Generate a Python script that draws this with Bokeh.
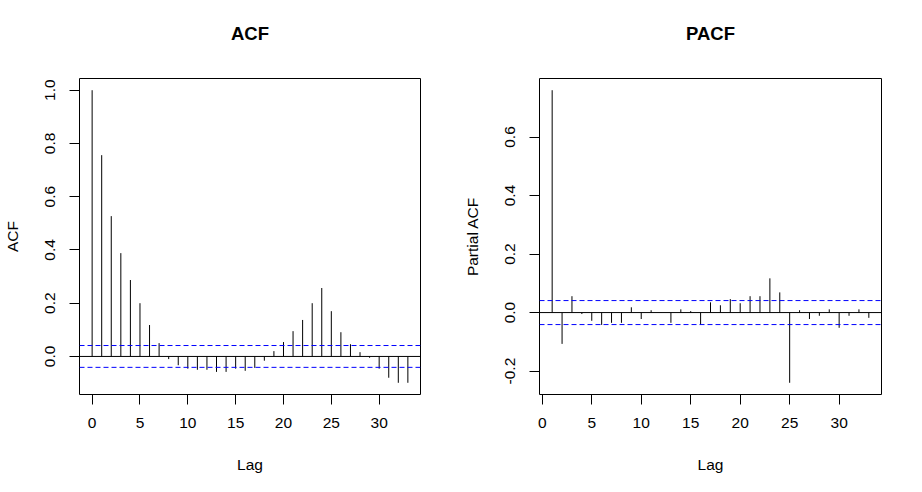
from bokeh.plotting import figure
from bokeh.layouts import row
from bokeh.models import (Span, FixedTicker, PrintfTickFormatter, Range1d, ColumnDataSource,
                          LinearAxis)
from bokeh.embed import file_html
from bokeh.resources import INLINE

# ---- data ----
acf_lags = list(range(0, 34))
acf_vals = [1.000, 0.756, 0.527, 0.388, 0.287, 0.200, 0.118, 0.050, -0.010, -0.033,
            -0.046, -0.050, -0.050, -0.058, -0.058, -0.046, -0.054, -0.043, -0.016, 0.020,
            0.054, 0.095, 0.137, 0.200, 0.257, 0.170, 0.091, 0.046, 0.016, -0.005,
            -0.046, -0.080, -0.099, -0.099]
pacf_lags = list(range(1, 34))
pacf_vals = [0.760, -0.107, 0.056, -0.005, -0.028, -0.042, -0.035, -0.035, 0.018, -0.022,
             0.008, 0.001, -0.035, 0.011, 0.005, -0.041, 0.035, 0.025, 0.046, 0.032,
             0.056, 0.056, 0.117, 0.069, -0.240, 0.008, -0.022, -0.011, 0.011, -0.052,
             -0.011, 0.011, -0.018]
ci = 0.041
x_ticks = [0, 5, 10, 15, 20, 25, 30]
acf_yticks = [0.0, 0.2, 0.4, 0.6, 0.8, 1.0]
pacf_yticks = [-0.2, 0.0, 0.2, 0.4, 0.6]

FONT = "Liberation Sans"


def r_range(lo, hi):
    pad = 0.04 * (hi - lo)
    return Range1d(lo - pad, hi + pad)


def make_panel(lags, vals, title, ylab, yticks, bl, br):
    ylo = min(min(vals), -ci)
    yhi = max(max(vals), ci)
    xr = r_range(min(lags), max(lags))
    yr = r_range(ylo, yhi)
    p = figure(width=453, height=476, x_range=xr, y_range=yr,
               output_backend="svg", toolbar_location=None,
               min_border_left=bl, min_border_right=br,
               min_border_top=78, min_border_bottom=82)
    p.background_fill_color = "white"
    p.border_fill_color = "white"
    p.outline_line_color = "black"
    p.outline_line_width = 1
    p.outline_line_alpha = 1.0
    p.xgrid.grid_line_color = None
    p.ygrid.grid_line_color = None

    src = ColumnDataSource(dict(x=lags, y=vals, z=[0] * len(lags)))
    p.segment(x0="x", y0="z", x1="x", y1="y", source=src,
              line_color="black", line_width=1)
    p.add_layout(Span(location=0, dimension="width", line_color="black", line_width=1))
    for c in (ci, -ci):
        p.add_layout(Span(location=c, dimension="width", line_color="#0000FF",
                          line_width=1, line_dash="5 3"))

    xax = p.below[0]
    yax = p.left[0]
    for ax in (xax, yax):
        ax.axis_line_color = None
        ax.major_tick_line_color = "black"
        ax.major_tick_out = 10
        ax.major_tick_in = 0
        ax.minor_tick_line_color = None
        ax.major_label_text_font = FONT
        ax.major_label_text_font_size = "15.5px"
        ax.major_label_text_color = "black"
        ax.axis_label_text_font = FONT
        ax.axis_label_text_font_size = "15.5px"
        ax.axis_label_text_font_style = "normal"
        ax.axis_label_text_color = "black"

    xax.ticker = FixedTicker(ticks=x_ticks)
    xax.axis_label = "Lag"
    xax.major_label_standoff = 13
    xax.axis_label_standoff = 25

    yax.ticker = FixedTicker(ticks=yticks)
    yax.formatter = PrintfTickFormatter(format="%.1f")
    yax.major_label_orientation = "vertical"
    yax.axis_label = ylab
    yax.major_label_standoff = 14
    yax.axis_label_standoff = 22

    # title drawn as the label of a bare axis above the frame
    tax = LinearAxis(ticker=FixedTicker(ticks=[]), axis_label=title,
                     axis_line_color=None, major_tick_line_color=None,
                     minor_tick_line_color=None, major_tick_out=0, major_tick_in=0,
                     major_label_standoff=0, axis_label_standoff=35,
                     axis_label_text_font=FONT, axis_label_text_font_size="18.5px",
                     axis_label_text_font_style="bold", axis_label_text_color="black")
    p.add_layout(tax, "above")
    return p


p1 = make_panel(acf_lags, acf_vals, "ACF", "ACF", acf_yticks, 78, 33)
p2 = make_panel(pacf_lags, pacf_vals, "PACF", "Partial ACF", pacf_yticks, 86, 25)

layout = row(p1, p2)
open("out.html", "w").write(file_html(layout, INLINE))
